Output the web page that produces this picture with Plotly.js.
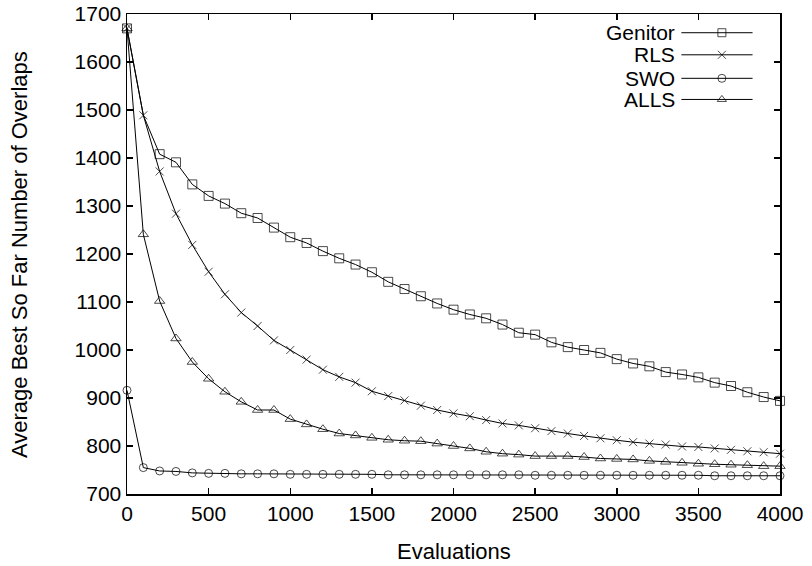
<!DOCTYPE html>
<html>
<head>
<meta charset="utf-8">
<script src="https://cdn.plot.ly/plotly-3.0.1.min.js"></script>
<style>html,body{margin:0;padding:0;background:#fff}#chart{width:812px;height:566px}</style>
</head>
<body>
<div id="chart"></div>
<script>
const evaluations = [0,100,200,300,400,500,600,700,800,900,1000,1100,1200,1300,1400,1500,1600,1700,1800,1900,2000,2100,2200,2300,2400,2500,2600,2700,2800,2900,3000,3100,3200,3300,3400,3500,3600,3700,3800,3900,4000];
const genitor = [1670,1489,1408,1391,1345,1321,1305,1285,1275,1255,1235,1223,1206,1191,1178,1162,1142,1127,1112,1097,1084,1074,1066,1053,1036,1032,1016,1006,1000,994,981,972,966,954,949,943,932,925,912,902,894];
const rls = [1670,1489,1372,1284,1219,1163,1116,1078,1050,1020,1000,980,959,944,932,914,904,895,884,875,868,862,854,847,843,837,831,826,821,816,812,808,805,803,799,798,795,792,789,787,784];
const swo = [916,755,748,747,744,743,743,742,742,742,741,741,741,741,741,741,740,740,740,740,740,740,740,740,740,739,739,739,739,739,739,739,739,739,739,739,738,738,738,738,738];
const alls = [1670,1241,1102,1024,975,940,913,892,875,875,856,845,835,826,822,817,813,811,810,805,800,795,788,784,782,779,779,779,777,774,773,772,769,767,765,763,762,761,760,758,758];
const seriesNames = ['Genitor','RLS','SWO','ALLS'];
const seriesSymbols = ['square-open','x-thin-open','circle-open','triangle-up-open'];
const xTitle = 'Evaluations';
const yTitle = 'Average Best So Far Number of Overlaps';

const series = [genitor, rls, swo, alls];
const markerSizes = [9, 8, 8, 9];
const traces = [];
series.forEach((vals, i) => {
  let sizes = vals.map(() => markerSizes[i]);
  if (i === 0) { sizes[1] = 0; }
  traces.push({
    x: evaluations, y: vals, type: 'scatter', mode: 'lines+markers',
    name: seriesNames[i], showlegend: false,
    line: {color: '#000', width: 1},
    marker: {symbol: seriesSymbols[i], size: sizes, color: '#000', line: {color: '#000', width: 1}},
    cliponaxis: false
  });
});

const fam = '"Liberation Sans", Arial, sans-serif';
// custom legend (text left, sample right) on an overlay axis in paper units
const legY = [0.961, 0.915, 0.866, 0.822];
const annotations = [];
seriesNames.forEach((n, i) => {
  traces.push({
    x: [0.849, 0.911, 0.958], y: [legY[i], legY[i], legY[i]],
    xaxis: 'x2', yaxis: 'y2', type: 'scatter', mode: 'lines+markers',
    showlegend: false, hoverinfo: 'skip',
    line: {color: '#000', width: 1},
    marker: {symbol: seriesSymbols[i], size: [0, 8, 0], color: '#000', line: {color: '#000', width: 1}}
  });
  annotations.push({
    xref: 'paper', yref: 'paper', x: 0.842, y: legY[i], xanchor: 'right', yanchor: 'middle',
    text: n, showarrow: false, font: {family: fam, size: 21, color: '#000'}
  });
});
// axis titles
annotations.push({
  xref: 'paper', yref: 'paper', x: 0.5, y: -0.1203, xanchor: 'center', yanchor: 'middle',
  text: xTitle, showarrow: false, font: {family: fam, size: 22, color: '#000'}
});
annotations.push({
  xref: 'paper', yref: 'paper', x: -0.1654, y: 0.5, xanchor: 'center', yanchor: 'middle',
  text: yTitle, textangle: -90, showarrow: false, font: {family: fam, size: 22, color: '#000'}
});

const axisFont = {family: fam, size: 21, color: '#000'};
const layout = {
  width: 812, height: 566,
  margin: {l: 127, r: 32, t: 14, b: 72, pad: 0},
  paper_bgcolor: '#fff', plot_bgcolor: '#fff',
  showlegend: false,
  annotations: annotations,
  xaxis: {
    range: [0, 4000], dtick: 500, tick0: 0,
    ticks: 'inside', ticklen: 6, tickwidth: 1.5, tickcolor: '#000',
    showline: true, linecolor: '#000', linewidth: 1.5, mirror: 'ticks',
    showgrid: false, zeroline: false,
    tickfont: axisFont
  },
  yaxis: {
    range: [700, 1700], dtick: 100, tick0: 700,
    ticks: 'inside', ticklen: 6, tickwidth: 1.5, tickcolor: '#000',
    showline: true, linecolor: '#000', linewidth: 1.5, mirror: 'ticks',
    showgrid: false, zeroline: false,
    tickfont: axisFont
  },
  xaxis2: {overlaying: 'x', range: [0, 1], visible: false, fixedrange: true},
  yaxis2: {overlaying: 'y', range: [0, 1], visible: false, fixedrange: true}
};
Plotly.newPlot('chart', traces, layout, {displayModeBar: false, staticPlot: true});
</script>
</body>
</html>
